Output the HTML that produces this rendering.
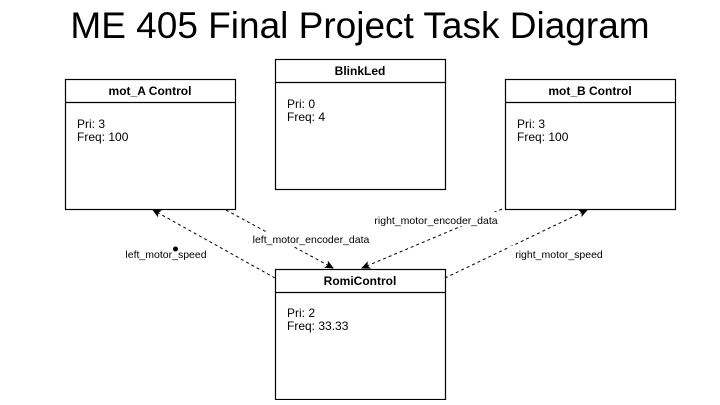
<!DOCTYPE html>
<html><head><style>
body{margin:0;width:720px;height:400px;background:#fff;overflow:hidden;font-family:"Liberation Sans",sans-serif;}
</style></head><body>
<svg width="720" height="400" xmlns="http://www.w3.org/2000/svg" font-family="Liberation Sans, sans-serif">
<defs><marker id="a" markerWidth="10" markerHeight="10" refX="8" refY="5" orient="auto" markerUnits="userSpaceOnUse"><path d="M0,1 L9,5 L0,9 L2,5 Z" fill="#000"/></marker></defs>
<text x="360" y="38" font-size="37" text-anchor="middle" fill="#000">ME 405 Final Project Task Diagram</text>
<g fill="#fff" stroke="#000" stroke-width="1.2">
<rect x="65.5" y="79.5" width="170" height="130"/><line x1="65" y1="102.5" x2="236" y2="102.5"/>
<rect x="275.5" y="59.5" width="170" height="130"/><line x1="275" y1="82.5" x2="446" y2="82.5"/>
<rect x="505.5" y="79.5" width="170" height="130"/><line x1="505" y1="102.5" x2="676" y2="102.5"/>
<rect x="275.5" y="269.5" width="170" height="130"/><line x1="275" y1="292.5" x2="446" y2="292.5"/>
</g>
<g font-size="12" fill="#000">
<text x="150" y="95" text-anchor="middle" font-weight="bold">mot_A Control</text>
<text x="77" y="128">Pri: 3</text><text x="77" y="141">Freq: 100</text>
<text x="360" y="75" text-anchor="middle" font-weight="bold">BlinkLed</text>
<text x="287" y="108">Pri: 0</text><text x="287" y="121">Freq: 4</text>
<text x="590" y="95" text-anchor="middle" font-weight="bold">mot_B Control</text>
<text x="517" y="128">Pri: 3</text><text x="517" y="141">Freq: 100</text>
<text x="360" y="285" text-anchor="middle" font-weight="bold">RomiControl</text>
<text x="287" y="317">Pri: 2</text><text x="287" y="330">Freq: 33.33</text>
</g>
<g stroke="#000" stroke-width="1" stroke-dasharray="3,3" fill="none">
<line x1="275" y1="278" x2="153" y2="210" marker-end="url(#a)"/>
<line x1="226" y1="210" x2="333" y2="268" marker-end="url(#a)"/>
<line x1="502" y1="209" x2="362" y2="268" marker-end="url(#a)"/>
<line x1="445" y1="278" x2="587" y2="210" marker-end="url(#a)"/>
</g>
<g font-size="10.5" fill="#000" text-anchor="middle">
<rect x="108" y="246" width="106" height="14" fill="#fff"/>
<text x="166" y="258">left_motor_speed</text>
<rect x="248" y="232" width="126" height="14" fill="#fff"/>
<text x="311" y="243">left_motor_encoder_data</text>
<rect x="370" y="212" width="132" height="14" fill="#fff"/>
<text x="436" y="224">right_motor_encoder_data</text>
<rect x="510" y="246" width="98" height="14" fill="#fff"/>
<text x="559" y="258">right_motor_speed</text>
</g>
<circle cx="175.5" cy="249" r="2.5" fill="#000"/>
</svg>
</body></html>
